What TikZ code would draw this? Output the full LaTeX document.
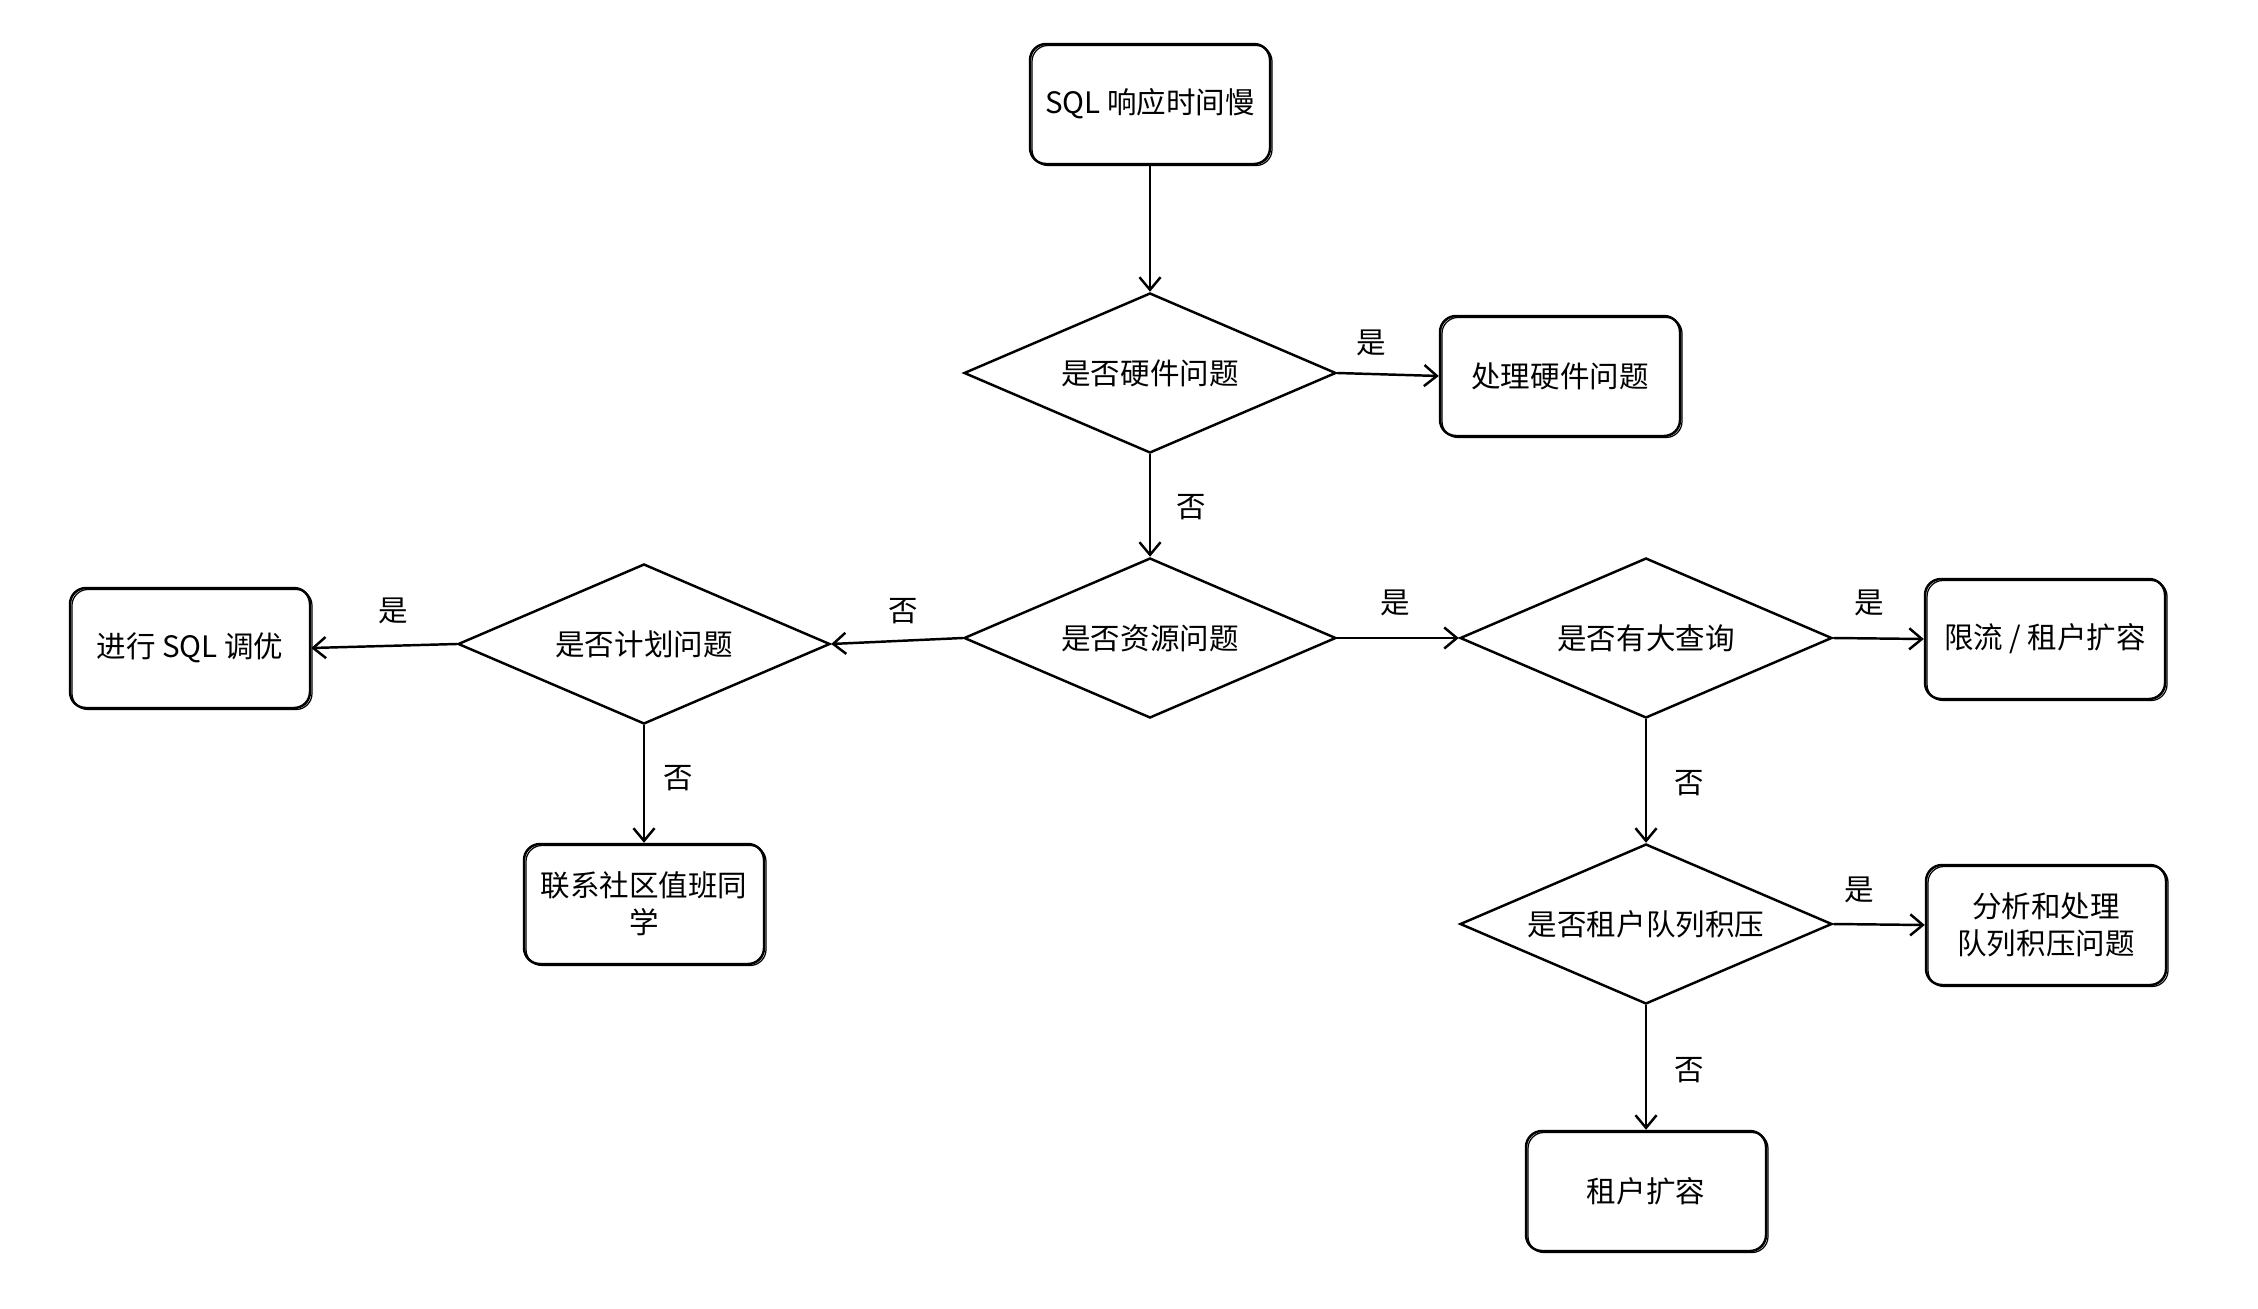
\documentclass[tikz,border=0pt]{standalone}
\usepackage{fontspec}
\newfontfamily\cjk{Noto Sans CJK SC}
\usetikzlibrary{shapes.geometric, arrows.meta}

\begin{document}
\begin{tikzpicture}[
    every node/.style={font=\cjk\fontsize{8.4pt}{10.6pt}\selectfont},
    box/.style={draw, line width=0.7pt, rounded corners=0.16cm,
      minimum width=2.4cm, minimum height=1.2cm, align=center,
      postaction={draw, line width=0.35pt, rounded corners=0.18cm,
        transform canvas={shift={(0.02,-0.015)}}}},
    decision/.style={draw, diamond, line width=0.7pt, aspect=2.3,
      minimum width=3.72cm, minimum height=1.6cm, inner sep=0pt,
      align=center},
    flow/.style={-{Straight Barb[length=3.6pt, width=6pt]}, line width=0.7pt},
  ]
    \useasboundingbox (0, 0) rectangle (22.58, -13.08);
    \node[box] (slow) at (11.5, -1.04) {SQL 响应时间慢};
    \node[decision] (hw) at (11.5, -3.73) {是否硬件问题};
    \node[box] (fixhw) at (15.6, -3.76) {处理硬件问题};
    \node[decision] (res) at (11.5, -6.38) {是否资源问题};
    \node[decision] (plan) at (6.44, -6.44) {是否计划问题};
    \node[box] (tune) at (1.9, -6.48) {进行 SQL 调优};
    \node[box] (duty) at (6.44, -9.04) {联系社区值班同\\学};
    \node[decision] (bigq) at (16.46, -6.38) {是否有大查询};
    \node[box] (limit) at (20.45, -6.39) {限流 / 租户扩容};
    \node[decision] (queue) at (16.46, -9.24) {是否租户队列积压};
    \node[box] (backlog) at (20.46, -9.25) {分析和处理\\队列积压问题};
    \node[box] (scale) at (16.46, -11.91) {租户扩容};
    \draw[flow] (slow.south) -- (hw.north);
    \draw[flow] (hw.east) -- (fixhw.west);
    \draw[flow] (hw.south) -- (res.north);
    \draw[flow] (res.west) -- (plan.east);
    \draw[flow] (plan.west) -- (tune.east);
    \draw[flow] (plan.south) -- (duty.north);
    \draw[flow] (res.east) -- (bigq.west);
    \draw[flow] (bigq.east) -- (limit.west);
    \draw[flow] (bigq.south) -- (queue.north);
    \draw[flow] (queue.east) -- (backlog.west);
    \draw[flow] (queue.south) -- (scale.north);
    % branch labels
    \node (y1) at (13.71, -3.43) {是};
    \node (n1) at (11.91, -5.07) {否};
    \node (n2) at (9.03, -6.11) {否};
    \node (y2) at (3.93, -6.11) {是};
    \node (n3) at (6.78, -7.78) {否};
    \node (y3) at (13.95, -6.03) {是};
    \node (y4) at (18.69, -6.03) {是};
    \node (n4) at (16.89, -7.83) {否};
    \node (y5) at (18.59, -8.90) {是};
    \node (n5) at (16.89, -10.70) {否};
  \end{tikzpicture}
\end{document}
